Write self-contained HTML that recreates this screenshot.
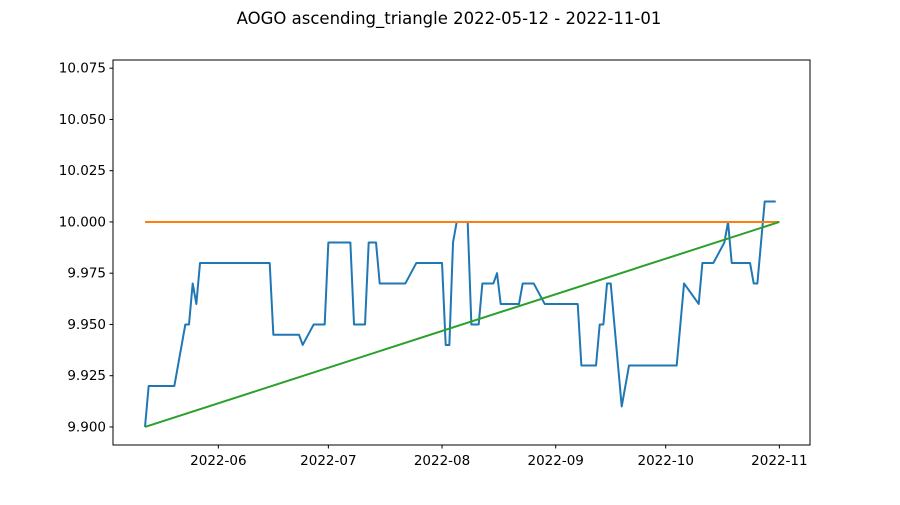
<!DOCTYPE html>
<html><head><meta charset="utf-8"><style>
body{margin:0;background:#fff;}
svg text{font-family:"DejaVu Sans","Liberation Sans",sans-serif;fill:#000;}
</style></head><body>
<svg id="chart" width="900" height="500" xmlns="http://www.w3.org/2000/svg">
<rect width="900" height="500" fill="#fff"/>
<text x="449" y="24" font-size="16.5" text-anchor="middle">AOGO ascending_triangle 2022-05-12 - 2022-11-01</text>
<g id="plot"></g>
<rect x="113" y="60" width="697" height="385" fill="none" stroke="#000" stroke-width="1"/>
</svg>
<script>
// Days since 2022-05-12 and closing values
const days = [0,1,8,11,12,13,14,15,34,35,42,43,46,49,50,56,57,60,61,63,64,71,74,81,82,83,84,85,88,89,91,92,95,96,97,102,103,106,109,118,119,123,124,125,126,127,130,132,145,147,151,152,155,158,159,160,165,166,167,169,172];
const prices = [9.90,9.92,9.92,9.95,9.95,9.97,9.96,9.98,9.98,9.945,9.945,9.94,9.95,9.95,9.99,9.99,9.95,9.95,9.99,9.99,9.97,9.97,9.98,9.98,9.94,9.94,9.99,10.00,10.00,9.95,9.95,9.97,9.97,9.975,9.96,9.96,9.97,9.97,9.96,9.96,9.93,9.93,9.95,9.95,9.97,9.97,9.91,9.93,9.93,9.97,9.96,9.98,9.98,9.99,10.00,9.98,9.98,9.97,9.97,10.01,10.01];
const resistanceDays = [0,173];
const resistanceVals = [10.00,10.00];
const supportDays = [0,173];
const supportVals = [9.90,10.00];
const yTicks = [9.900,9.925,9.950,9.975,10.000,10.025,10.050,10.075];
const xTickDays = [20,50,81,112,142,173];
const xTickLabels = ["2022-06","2022-07","2022-08","2022-09","2022-10","2022-11"];

const X0=113,X1=810,Y0=445,Y1=60;
const dMin=-8.73,dMax=181.35,vMin=9.8912,vMax=10.0790;
const xs=d=>X0+(d-dMin)/(dMax-dMin)*(X1-X0);
const ys=v=>Y0-(v-vMin)/(vMax-vMin)*(Y0-Y1);
const NS="http://www.w3.org/2000/svg";
const g=document.getElementById('plot');
function mk(t,a){const e=document.createElementNS(NS,t);for(const k in a)e.setAttribute(k,a[k]);g.appendChild(e);return e;}
yTicks.forEach(v=>{
  const y=ys(v);
  const t=mk('line',{x1:X0-3.5,x2:X0,y1:y,y2:y,stroke:'#000','stroke-width':1});
  
  
  const l=mk('text',{x:X0-7,y:y+4.5,'font-size':13.5,'text-anchor':'end'});
  l.textContent=v.toFixed(3);
  
  
});
xTickDays.forEach((d,i)=>{
  const x=xs(d);
  const t=mk('line',{x1:x,x2:x,y1:Y0,y2:Y0+3.5,stroke:'#000','stroke-width':1});
  
  
  const l=mk('text',{x:x,y:Y0+20,'font-size':13.5,'text-anchor':'middle'});
  l.textContent=xTickLabels[i];
  
  
});
function line(ds,vs,color,name){
  const p=mk('polyline',{points:ds.map((d,i)=>xs(d)+','+ys(vs[i])).join(' '),fill:'none',stroke:color,'stroke-width':2,'stroke-linejoin':'round'});
  
  
}
line(days,prices,'#1f77b4','price-line');
line(resistanceDays,resistanceVals,'#ff7f0e','resistance-line');
line(supportDays,supportVals,'#2ca02c','support-line');
</script>
</body></html>
